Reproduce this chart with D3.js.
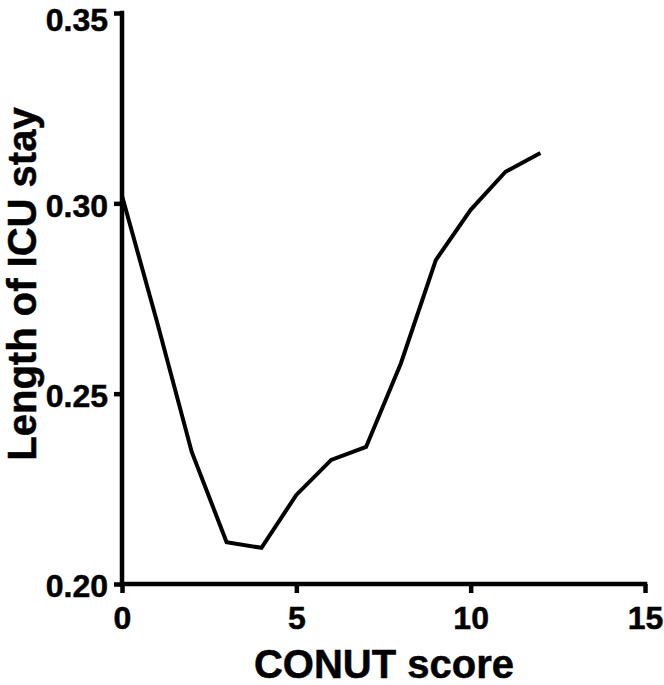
<!DOCTYPE html>
<html>
<head>
<meta charset="utf-8">
<script src="https://cdn.jsdelivr.net/npm/d3@7"></script>
<style>
  html, body { margin: 0; padding: 0; background: #fff; }
  svg { display: block; }
  text { font-family: "Liberation Sans", Arial, sans-serif; font-weight: bold; fill: #000; }
</style>
</head>
<body>
<svg id="chart" width="664" height="685"></svg>
<script>
const conutScore = [0, 1, 2, 3, 4, 5, 6, 7, 8, 9, 10, 11, 12];
const icuStay = [0.302, 0.269, 0.2347, 0.211, 0.2095, 0.2234, 0.2326, 0.236, 0.258, 0.2851, 0.2983, 0.3083, 0.3132];
const xTicks = [0, 5, 10, 15];
const yTicks = [0.20, 0.25, 0.30, 0.35];
const xTitle = "CONUT score";
const yTitle = "Length of ICU stay";

const svg = d3.select("#chart");
const x = d3.scaleLinear().domain([0, 15]).range([122, 645]);
const y = d3.scaleLinear().domain([0.20, 0.35]).range([584, 13]);

const xAxis = svg.append("g")
  .attr("transform", `translate(0,${y(0.20)})`)
  .call(d3.axisBottom(x).tickValues(xTicks).tickFormat(d3.format("d")).tickSize(9).tickPadding(13).tickSizeOuter(0));
const yAxis = svg.append("g")
  .attr("transform", `translate(${x(0)},0)`)
  .call(d3.axisLeft(y).tickValues(yTicks).tickFormat(d3.format(".2f")).tickSize(8).tickPadding(6).tickSizeOuter(0));

[xAxis, yAxis].forEach(g => {
  g.select(".domain").attr("stroke", "#000").attr("stroke-width", 4.5);
  g.selectAll(".tick line").attr("stroke", "#000").attr("stroke-width", 4.5);
  g.selectAll(".tick text")
    .attr("font-size", 32)
    .attr("font-family", "Liberation Sans, Arial, sans-serif")
    .attr("font-weight", "bold")
    .attr("fill", "#000")
    .attr("stroke", "#000")
    .attr("stroke-width", 0.5);
});
yAxis.selectAll(".tick text").attr("dy", d => d === 0.35 ? "0.55em" : "0.4em");
xAxis.select(".domain").attr("d", `M${x(0) - 2.25},0H${x(15) + 2.25}`);
yAxis.select(".domain").attr("d", `M0,${y(0.20) + 2.25}V${y(0.35) - 2.25}`);

const line = d3.line().x((d, i) => x(conutScore[i])).y(d => y(d));
svg.append("path")
  .datum(icuStay)
  .attr("fill", "none")
  .attr("stroke", "#000")
  .attr("stroke-width", 4)
  .attr("stroke-linejoin", "miter")
  .attr("d", line);

svg.append("text")
  .attr("x", 384).attr("y", 678)
  .attr("text-anchor", "middle")
  .attr("font-size", 40)
  .attr("stroke", "#000").attr("stroke-width", 0.5)
  .text(xTitle);

svg.append("text")
  .attr("transform", `translate(36,284) rotate(-90)`)
  .attr("text-anchor", "middle")
  .attr("font-size", 40)
  .attr("stroke", "#000").attr("stroke-width", 0.5)
  .text(yTitle);
</script>
</body>
</html>
